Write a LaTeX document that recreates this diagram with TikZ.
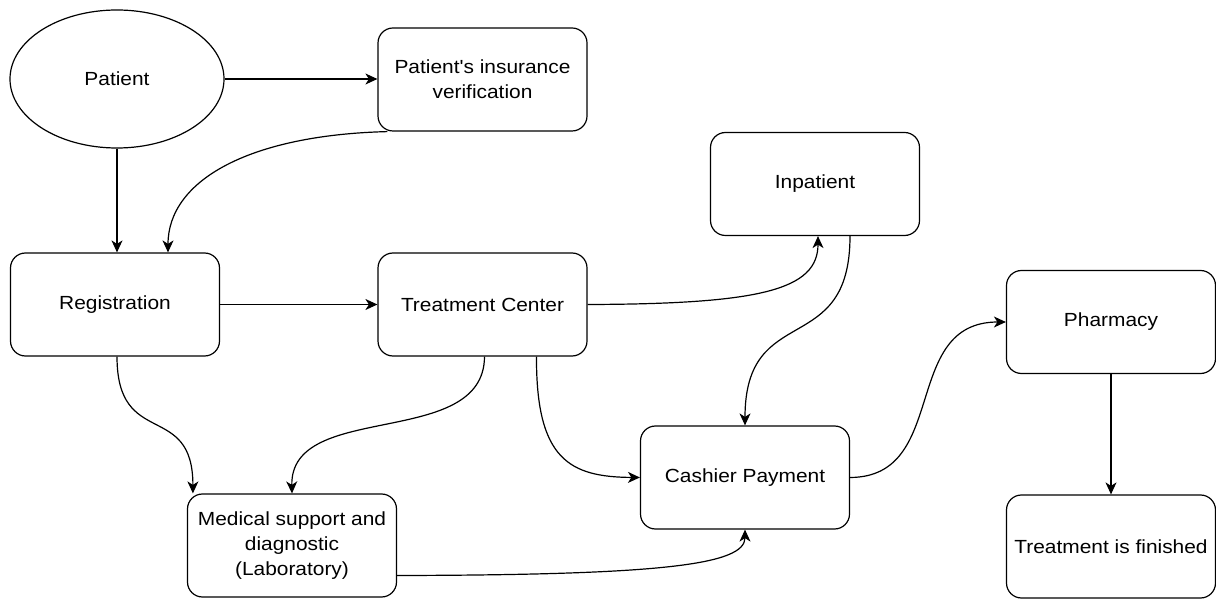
\documentclass[tikz,border=0pt]{standalone}
\usepackage{fontspec}
\newfontfamily\labelfont{Liberation Sans}[FakeStretch=1.1]
\usetikzlibrary{arrows.meta,shapes.geometric}
\begin{document}
\begin{tikzpicture}[x=1pt,y=-1pt,
  every node/.style={font=\labelfont\fontsize{19}{25}\selectfont, align=center, inner sep=0pt},
  proc/.style={draw, line width=1.2pt, rounded corners=15pt, minimum width=209pt, minimum height=103pt},
  flow/.style={draw, line width=1.2pt, -{Stealth[length=12pt,width=11pt,inset=3.5pt]}}]
\useasboundingbox (0,0) rectangle (1216,601);
% start node
\node[draw, line width=1.2pt, ellipse, minimum width=214pt, minimum height=138pt] (patient) at (117,79) {Patient};
% process steps
\node[proc] (ins)   at (482.5,79.5)  {Patient's insurance\\verification};
\node[proc] (inp)   at (815,184)     {Inpatient};
\node[proc] (reg)   at (115,304.5)   {Registration};
\node[proc] (treat) at (482.5,304.5) {Treatment Center};
\node[proc] (pharm) at (1111,322)    {Pharmacy};
\node[proc] (cash)  at (745,477.5)   {Cashier Payment};
\node[proc] (med)   at (292,545.5)   {Medical support and\\diagnostic\\(Laboratory)};
\node[proc] (fin)   at (1111,546.5)  {Treatment is finished};
% connectors
\draw[flow] (patient.east) -- (ins.west |- patient.east);
\draw[flow] (patient.south) -- (reg.north -| patient.south);
\coordinate (insA) at ([xshift=10pt]ins.south west);
\coordinate (regB) at ([xshift=53pt]reg.north);
\draw[flow] (insA) .. controls (250,135) and (168,180) .. (regB);
\draw[flow] (reg.east) -- (treat.west);
\coordinate (inpA) at ([xshift=3pt]inp.south);
\draw[flow] (treat.east) .. controls (760,304) and (818,290) .. (inpA);
\coordinate (inpB) at ([xshift=35pt]inp.south);
\draw[flow] (inpB) .. controls (850,360) and (745,300) .. (cash.north);
\coordinate (regC) at (reg.south -| patient.south);
\coordinate (medA) at ([xshift=6pt]med.north west);
\draw[flow] (regC) .. controls (117,450) and (193,400) .. (medA);
\coordinate (treatA) at ([xshift=2pt]treat.south);
\draw[flow] (treatA) .. controls (484,450) and (290,400) .. (med.north);
\coordinate (treatB) at ([xshift=54pt]treat.south);
\draw[flow] (treatB) .. controls (536,460) and (570,477) .. (cash.west);
\coordinate (medB) at ([yshift=-30pt]med.east);
\draw[flow] (medB) .. controls (660,575) and (745,565) .. (cash.south);
\draw[flow] (cash.east) .. controls (950,477) and (900,322) .. (pharm.west);
\draw[flow] (pharm.south) -- (fin.north);
\end{tikzpicture}
\end{document}
